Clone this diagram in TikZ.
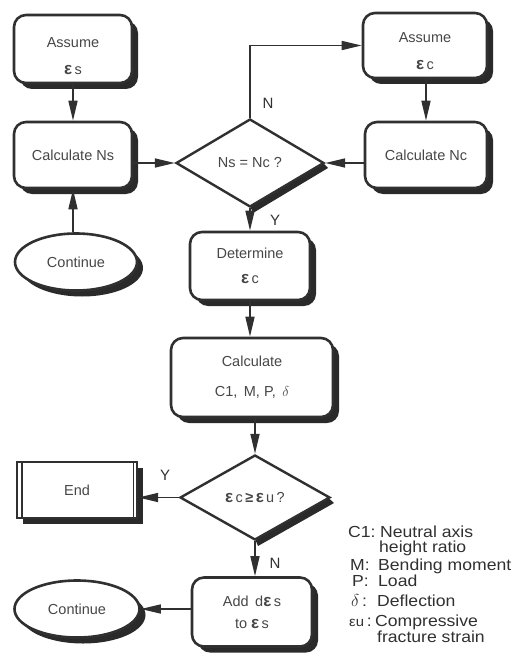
\documentclass[tikz,border=0pt]{standalone}
\usepackage{fontspec}
\setmainfont{Liberation Sans}
\newfontfamily\legfam[FakeStretch=1.1]{Liberation Sans}
\usetikzlibrary{shapes.geometric,arrows.meta,calc}
\definecolor{linec}{HTML}{303030}
\definecolor{shadowc}{HTML}{2A2A2A}
\definecolor{textc}{HTML}{474747}
\newcommand\boxfont{\fontsize{14.5}{17}\selectfont}
\newcommand\legfont{\legfam\fontsize{16}{18}\selectfont}
\newcommand\myeps{{\fontsize{17}{17}\selectfont\bfseries ε}}
\begin{document}
\begin{tikzpicture}[x=1pt,y=-1pt,
  shd/.style={fill=shadowc},
  rshd/.style={fill=shadowc, rounded corners=12pt},
  box/.style={rectangle, rounded corners=12pt, draw=linec, line width=2.6pt, fill=white,
    font=\boxfont, text=textc, align=center, inner sep=0pt},
  oval/.style={ellipse, draw=linec, line width=2.6pt, fill=white,
    font=\boxfont, text=textc, inner sep=0pt},
  endbox/.style={rectangle, draw=linec, line width=2.4pt, fill=white,
    font=\boxfont, text=textc, inner sep=0pt},
  dec/.style={diamond, draw=linec, line width=2.4pt, fill=white, inner sep=0pt,
    font=\boxfont, text=textc},
  arr/.style={draw=linec, line width=1.6pt, -{Triangle[length=20pt,width=9pt]}},
  lab/.style={font=\fontsize{15}{15}\selectfont, text=linec, inner sep=0pt},
  leg/.style={anchor=base west, font=\legfont, text=linec, inner sep=0pt}]
\useasboundingbox (0,0) rectangle (513,658);

% shadows (drawn first, below the boxes)
\path[rshd] (20,21) rectangle (138,89);
\path[rshd] (20,128) rectangle (138,194);
\path[shd] (82,268) ellipse [x radius=61, y radius=28.5];
\path[rshd] (369,19) rectangle (493,84);
\path[rshd] (371,128) rectangle (493,194);
\path[rshd] (196,238) rectangle (316,306);
\path[rshd] (177,344) rectangle (339,423);
\path[shd] (23,468) rectangle (143,524);
\path[rshd] (198,583.5) rectangle (318,652.5);
\path[shd] (83,615) ellipse [x radius=62.5, y radius=28.5];
\path[shd] (322,162) -- (250,206) -- (253,213) -- (328,168) -- cycle;
\path[shd] (328,497.5) -- (255,539) -- (258,546) -- (334,503) -- cycle;

% boxes
\node[box, minimum width=118pt, minimum height=68pt] (A1) at (73,49)
  {\rule{0pt}{24pt}Assume\\[10pt]\myeps\,s};
\node[box, minimum width=118pt, minimum height=66pt] (CNs) at (73,155) {Calculate Ns};
\node[oval, minimum width=122pt, minimum height=57pt] (Cont1) at (76,262) {Continue};
\node[box, minimum width=124pt, minimum height=65pt] (AC) at (425,45.5)
  {\rule{0pt}{21pt}Assume\\[10pt]\myeps\,c};
\node[box, minimum width=122pt, minimum height=66pt] (CNc) at (426,155) {Calculate Nc};
\node[dec, minimum width=148pt, minimum height=88pt] (D1) at (250,163) {Ns = Nc ?};
\node[box, minimum width=120pt, minimum height=68pt] (Det) at (250,266)
  {Determine\\[8pt]\myeps\,c};
\node[box, minimum width=162pt, minimum height=79pt] (Calc) at (252,377.5)
  {Calculate\\[13pt]C1,\, M, P,\, $\delta$};
\node[dec, minimum width=150pt, minimum height=85pt] (D2) at (255,497.5)
  {\myeps\,c\,{\bfseries ≥}\,\myeps\,u\,?};
\node[endbox, minimum width=120pt, minimum height=56pt] (End) at (77,490) {End};
\draw[linec, line width=1.4pt] ($(End.north west)+(6,0)$) -- ($(End.south west)+(6,0)$);
\draw[linec, line width=1.4pt] ($(End.north east)+(-5,0)$) -- ($(End.south east)+(-5,0)$);
\node[box, minimum width=120pt, minimum height=69pt] (Add) at (252,612)
  {Add\, d\myeps\,s\\[5pt]to \myeps\,s};
\node[oval, minimum width=125pt, minimum height=57pt] (Cont2) at (77,609) {Continue};

% connectors
\draw[arr] (A1.south) -- (A1.south |- CNs.north);
\draw[arr] (CNs.south |- Cont1.north) -- (CNs.south);
\draw[arr] (CNs.east |- D1.west) -- (D1.west);
\draw[arr] (CNc.west |- D1.east) -- (D1.east);
\draw[arr] (D1.north) |- (AC.west);
\draw[arr] (AC.south -| CNc.north) -- (CNc.north);
\draw[arr] (D1.south) -- (D1.south |- Det.north);
\draw[arr] (Det.south) -- (Det.south |- Calc.north);
\draw[arr] (Calc.south -| D2.north) -- (D2.north);
\draw[arr] (D2.west) -- (D2.west -| End.east);
\draw[arr] (D2.south) -- (D2.south |- Add.north);
\draw[arr] (Add.west |- Cont2.east) -- (Cont2.east);

% connector labels
\node[lab] (n1) at (268,103) {N};
\node[lab] (y1) at (275,220) {Y};
\node[lab] (y2) at (165,475) {Y};
\node[lab] (n2) at (275,563) {N};

% legend
\node[leg] (k1) at (348,537) {C1:};
\node[leg] (v1) at (380,537) {Neutral axis};
\node[leg] (v1b) at (379,552) {height ratio};
\node[leg] (k2) at (350,570) {M:};
\node[leg] (v2) at (378,570) {Bending moment};
\node[leg] (k3) at (352,586) {P:};
\node[leg] (v3) at (378,586) {Load};
\node[leg] (k4) at (351,606) {$\delta$\,:};
\node[leg] (v4) at (377,606) {Deflection};
\node[leg] (k5) at (349,626) {{\fontsize{13.5}{14}\selectfont εu}\,:};
\node[leg] (v5) at (375,626) {Compressive};
\node[leg] (v5b) at (377,642) {fracture strain};
\end{tikzpicture}
\end{document}
